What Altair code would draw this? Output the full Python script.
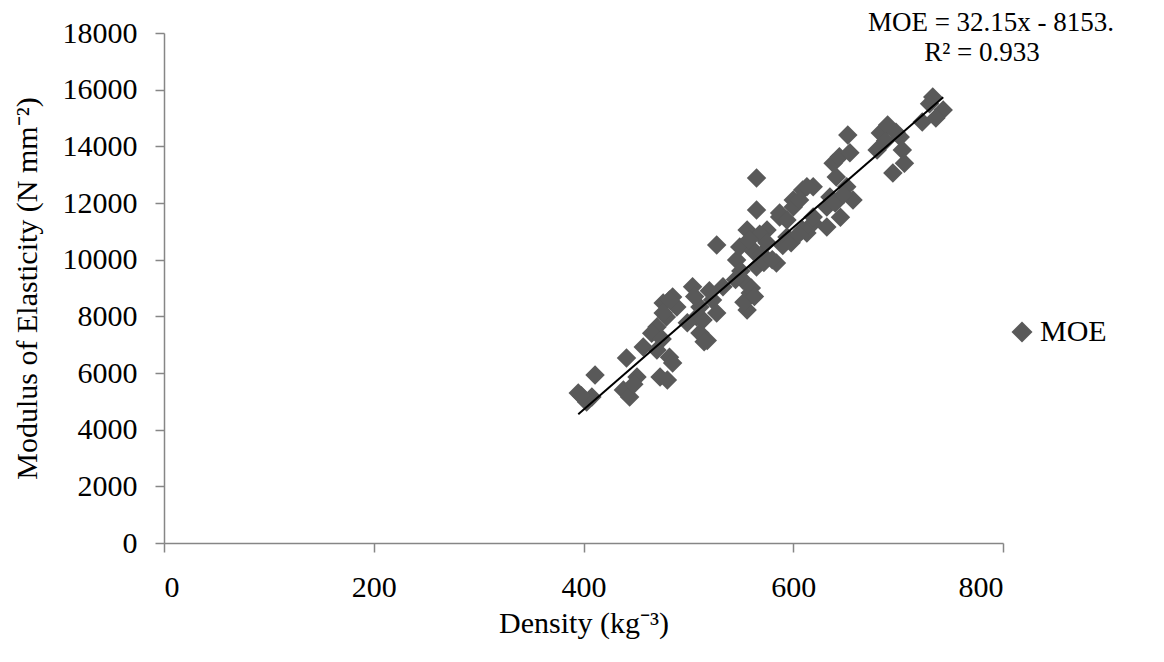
import altair as alt
import pandas as pd

# ---- data ----
density = [395, 403, 408, 411, 398,
           438, 441, 444, 451, 457, 448,
           470, 473, 480, 482, 485,
           476, 485, 470, 479, 489, 476, 482, 465, 475,
           504, 511, 508, 499, 514, 511, 506, 523, 527, 533, 527, 518, 515, 520,
           546, 549, 552, 556, 556, 559, 559, 565, 565, 565, 575, 584, 587, 594,
           550, 553, 560, 562, 568, 570, 572, 545, 558, 563, 575,
           600, 609, 619, 613, 619, 587, 594, 600, 606, 613, 619, 609, 590, 598, 605, 580,
           632, 632, 635, 638, 641, 644, 651, 652, 654, 657, 645, 640, 648,
           680, 683, 690, 695, 702, 704, 706, 723, 733, 743, 688, 698, 730, 736]
moe = [5290, 4980, 5150, 5930, 5200,
       5400, 6530, 5150, 5860, 6920, 5600,
       6810, 5860, 5750, 6560, 6350,
       8470, 8680, 7620, 7980, 8330, 8120, 8580, 7400, 7200,
       9040, 7410, 7980, 7770, 7870, 8330, 8700, 8580, 8120, 9040, 10520, 7150, 7100, 8900,
       9990, 10450, 9280, 11050, 8220, 10450, 8820, 12880, 11750, 9740, 11050, 9880, 11510, 10800,
       9600, 8500, 9000, 10300, 10900, 10200, 9900, 9300, 10700, 8700, 10600,
       12110, 12460, 12570, 10940, 11290, 11650, 11400, 11860, 12110, 12570, 11510, 11050, 10500, 10600, 10900, 10000,
       11860, 11150, 12210, 13400, 12920, 13630, 12570, 14400, 13770, 12110, 11500, 12000, 12300,
       13870, 14470, 14750, 13060, 14330, 13870, 13400, 14860, 15740, 15280, 14200, 14500, 15500, 15000]
series_name = "MOE"
slope = 32.15
intercept = -8153
eq_label = ["MOE = 32.15x - 8153."]
r2_label = ["R² = 0.933"]
x_ticks = [0, 200, 400, 600, 800]
y_ticks = [0, 2000, 4000, 6000, 8000, 10000, 12000, 14000, 16000, 18000]

FONT = "Liberation Serif"
GRAY_AXIS = "#868686"
POINT_COLOR = "#595959"

df = pd.DataFrame({"density": density, "moe": moe, "series": series_name})
line_x = [min(density), max(density)]
line_df = pd.DataFrame({"density": line_x, "moe": [slope * x + intercept for x in line_x]})

xs = alt.Scale(domain=[0, 800], nice=False, zero=False)
ys = alt.Scale(domain=[0, 18000], nice=False)

x_axis = alt.Axis(title="Density (kg⁻³)", values=x_ticks, format="d", labelPadding=20,
                  titlePadding=6)
y_axis = alt.Axis(title="Modulus of Elasticity (N mm⁻²)", values=y_ticks, format="d",
                  labelPadding=18, titlePadding=20)

points = alt.Chart(df).mark_point(shape="diamond", filled=True, size=380, opacity=1,
                                  strokeWidth=0).encode(
    x=alt.X("density:Q", scale=xs, axis=x_axis),
    y=alt.Y("moe:Q", scale=ys, axis=y_axis),
    color=alt.Color("series:N", scale=alt.Scale(range=[POINT_COLOR]),
                    legend=alt.Legend(title=None, orient="none", legendX=843, legendY=284,
                                      labelFont=FONT, labelFontSize=30, labelColor="black",
                                      symbolSize=440, symbolType="diamond", labelOffset=3,
                                      padding=0, symbolStrokeWidth=0)),
)

line = alt.Chart(line_df).mark_line(color="black", strokeWidth=2).encode(
    x=alt.X("density:Q", scale=xs),
    y=alt.Y("moe:Q", scale=ys),
)

eq_text = alt.Chart(pd.DataFrame({"t": eq_label})).mark_text(
    font=FONT, fontSize=27, color="black", align="center", baseline="middle"
).encode(text="t:N", x=alt.value(827), y=alt.value(-10))

r2_text = alt.Chart(pd.DataFrame({"t": r2_label})).mark_text(
    font=FONT, fontSize=27, color="black", align="center", baseline="middle"
).encode(text="t:N", x=alt.value(818), y=alt.value(20))

chart = alt.layer(points, line, eq_text, r2_text).properties(
    width=839, height=510,
    autosize=alt.AutoSizeParams(type="none"),
    padding={"left": 156, "top": 25, "right": 140, "bottom": 100},
    background="white",
).configure_view(strokeWidth=0).configure_axis(
    grid=False,
    domainColor=GRAY_AXIS, domainWidth=1.5,
    tickColor=GRAY_AXIS, tickWidth=1.5, tickSize=9,
    labelFont=FONT, labelFontSize=30, labelColor="black",
    titleFont=FONT, titleFontSize=30, titleFontWeight="normal", titleColor="black",
)

chart.save("out.html", embed_options={"renderer": "svg", "actions": False})
